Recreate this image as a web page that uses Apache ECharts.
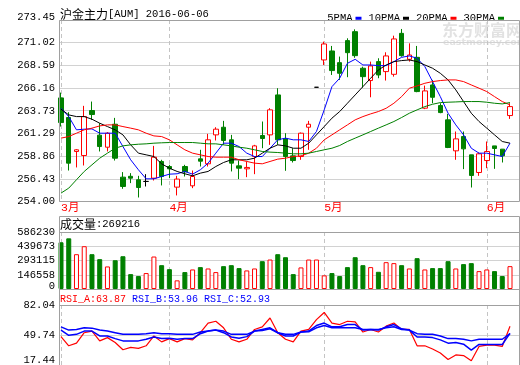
<!DOCTYPE html>
<html><head><meta charset="utf-8">
<script src="https://cdn.jsdelivr.net/npm/echarts@6/dist/echarts.min.js"></script>
<style>html,body{margin:0;padding:0;background:#fff}#c{width:520px;height:365px}</style>
</head><body><div id="c"></div>
<script>
const dates = ['2016-03-14','2016-03-15','2016-03-16','2016-03-17','2016-03-18','2016-03-21','2016-03-22','2016-03-23','2016-03-24','2016-03-25','2016-03-28','2016-03-29','2016-03-30','2016-03-31',
'2016-04-01','2016-04-05','2016-04-06','2016-04-07','2016-04-08','2016-04-11','2016-04-12','2016-04-13','2016-04-14','2016-04-15','2016-04-18','2016-04-19','2016-04-20','2016-04-21','2016-04-22','2016-04-25','2016-04-26','2016-04-27','2016-04-28','2016-04-29',
'2016-05-03','2016-05-04','2016-05-05','2016-05-06','2016-05-09','2016-05-10','2016-05-11','2016-05-12','2016-05-13','2016-05-16','2016-05-17','2016-05-18','2016-05-19','2016-05-20','2016-05-23','2016-05-24','2016-05-25','2016-05-26','2016-05-27','2016-05-30','2016-05-31',
'2016-06-01','2016-06-02','2016-06-03','2016-06-06'];
const opens = [265.10,263.00,259.36,258.93,263.75,261.11,259.82,262.28,256.61,256.70,256.33,256.15,256.50,258.29,257.75,255.54,257.75,255.68,258.57,258.04,261.14,261.96,260.61,257.82,257.50,258.82,261.07,261.14,265.42,260.71,258.89,258.82,261.96,266.24,269.17,270.13,268.88,271.24,272.20,268.28,266.96,268.99,267.92,267.63,272.02,269.24,269.45,264.00,266.49,264.28,262.75,259.43,260.96,259.00,257.11,258.39,259.96,259.61,263.21];
const closes = [262.46,258.11,259.54,263.10,263.32,259.89,261.32,258.64,255.61,256.50,255.50,256.15,258.75,256.68,257.50,256.40,257.18,256.68,258.32,260.61,261.75,260.54,258.11,257.57,257.65,259.96,260.75,263.82,260.61,258.82,258.39,261.32,262.28,266.24,270.88,268.03,267.74,269.95,269.63,267.38,268.53,267.56,269.60,271.42,269.63,269.70,265.78,265.85,265.17,263.53,259.79,260.71,259.64,256.79,259.11,259.36,259.68,258.89,264.17];
const lows = [262.03,257.32,257.65,257.86,262.75,259.36,259.36,258.39,255.36,255.97,254.43,255.61,256.25,255.72,256.50,254.65,256.68,255.43,257.75,257.75,260.54,260.07,257.22,256.40,256.61,256.93,259.71,260.07,260.07,257.29,258.18,258.47,259.54,266.24,268.63,267.56,267.03,267.32,269.40,266.21,265.17,267.21,266.96,267.38,269.52,268.99,265.71,263.90,264.53,263.46,259.72,258.47,257.47,255.50,256.75,257.57,257.50,258.18,262.85];
const highs = [265.67,263.57,259.61,264.25,264.71,262.39,261.43,262.96,257.15,257.04,256.75,256.93,259.96,258.47,257.93,256.75,257.93,257.32,259.54,261.25,261.96,262.64,261.14,258.39,258.29,260.07,262.57,264.00,266.14,261.32,259.71,261.39,262.64,266.24,271.13,270.67,269.53,271.49,272.45,268.45,268.99,269.35,269.99,271.77,272.49,270.95,270.67,266.42,267.03,264.53,263.39,261.50,261.50,259.00,259.25,260.43,259.96,259.61,264.53];
const ma5 = [263.99,263.10,261.68,261.75,261.78,261.32,261.32,261.32,259.89,258.47,257.40,256.43,256.43,256.68,256.93,256.97,257.22,256.93,257.40,258.11,259.18,260.25,260.25,259.89,259.18,258.82,258.82,259.71,260.61,260.79,260.61,260.61,260.43,261.50,263.82,266.31,267.21,268.81,269.24,268.63,268.63,268.56,268.56,268.99,269.45,269.60,269.35,268.46,266.85,265.24,263.46,262.21,261.14,259.71,259.18,259.18,259.00,258.82,260.25];
const ma10 = [263.89,263.28,263.10,263.10,262.82,262.39,262.03,261.68,261.14,260.07,259.18,259.00,258.82,258.04,257.57,257.22,256.97,256.75,257.04,257.22,257.75,258.18,258.47,258.47,258.47,258.64,259.18,259.71,260.07,259.96,259.71,259.71,260.25,261.14,262.03,262.93,263.64,264.53,265.42,266.31,267.21,268.10,268.63,268.99,269.10,269.17,268.99,268.63,268.28,267.74,267.03,265.96,264.71,263.46,262.57,261.86,261.14,260.43,260.25];
const ma20 = [260.79,260.96,261.32,261.68,261.86,262.10,262.21,262.21,262.03,261.86,261.68,261.32,261.03,260.96,260.61,260.07,259.54,259.18,259.00,258.82,258.75,258.75,258.75,258.47,258.29,258.11,258.04,258.29,258.54,258.64,258.82,258.89,259.18,259.71,260.61,261.14,261.68,262.21,262.75,263.10,263.39,263.64,263.99,264.53,265.24,266.14,266.39,266.67,266.85,266.96,267.03,267.03,266.85,266.49,266.14,265.78,265.24,264.71,264.35];
const ma30 = [254.90,255.43,256.33,257.22,257.93,258.64,259.18,259.71,259.96,260.07,260.14,260.18,260.25,260.29,260.32,260.32,260.32,260.32,260.25,260.18,260.18,260.07,259.96,259.82,259.71,259.54,259.36,259.29,259.25,259.18,259.11,259.11,259.18,259.36,259.54,259.71,260.00,260.43,260.79,261.14,261.50,261.86,262.21,262.57,263.00,263.46,263.82,264.17,264.42,264.60,264.64,264.67,264.71,264.71,264.71,264.64,264.53,264.46,264.60];
const volumes = [480500,521000,358000,440000,358000,307000,232000,296000,337000,153000,133000,164000,334000,245000,204000,89000,174000,201000,225000,211000,174000,235000,245000,215000,191000,211000,286000,303000,358000,327000,153000,222000,303000,303000,140000,164000,133000,225000,327000,245000,225000,177000,276000,266000,245000,211000,317000,201000,215000,215000,286000,211000,256000,266000,184000,201000,184000,133000,235000];
const rsiA = [47.98,38.12,40.94,52.20,53.96,43.40,46.92,41.64,33.90,36.36,35.31,38.12,48.68,42.35,45.87,42.35,45.87,44.46,52.20,62.59,64.52,57.48,45.16,42.35,45.16,55.72,58.54,68.04,52.20,45.16,42.35,53.96,55.72,66.28,74.03,62.59,61.00,64.52,63.82,52.91,55.72,52.91,59.24,62.59,55.72,55.72,38.12,38.12,34.60,30.38,23.34,28.27,27.56,21.93,37.42,38.83,38.83,37.42,59.24];
const rsiB = [55.02,49.39,50.44,53.96,53.96,48.68,48.68,45.87,43.40,43.40,43.40,45.16,47.63,45.87,46.22,45.16,45.87,45.87,51.15,53.96,55.02,52.20,47.63,46.22,47.98,53.96,55.72,57.48,52.20,48.68,48.68,52.91,53.96,59.95,62.59,58.54,58.54,61.00,61.00,55.02,55.72,55.02,58.54,61.00,56.43,55.02,47.63,47.63,46.92,44.46,40.94,41.64,39.88,33.55,39.53,39.53,39.53,39.53,51.50];
const rsiC = [58.54,55.02,55.72,57.48,57.13,55.02,53.96,52.20,50.44,50.44,50.44,51.15,52.20,51.15,51.15,50.44,50.44,50.44,52.91,53.96,55.02,53.96,50.44,50.44,50.44,53.96,54.67,56.43,52.20,50.44,50.44,52.91,53.26,57.48,59.95,57.48,57.48,57.48,57.48,55.72,55.72,55.72,57.48,58.54,55.72,55.02,51.15,50.44,50.44,48.68,45.87,45.87,45.16,43.40,45.16,45.16,45.16,45.16,51.15];
const priceAxis = [254.00, 273.45, 2.43125];
const volAxis = [0, 586230, 146557.5];
const rsiAxis = [17.44, 82.04, 32.3];
const maNames = ['5PMA','10PMA','20PMA','30PMA'];
const titleText = ['沪金主力', '[AUM] 2016-06-06'];
const volText = ['成交量', ':269216'];
const rsiTexts = ['RSI_A:63.87','RSI_B:53.96','RSI_C:52.93'];

const MONO = "'Liberation Mono','Noto Sans CJK SC',monospace";
const RED = '#ff0000', GREEN = '#008000', BLUE = '#0000ff';
const GRIDC = '#d2d2d2', FRAMEC = '#a0a0a0', DASHC = '#c4c4c4';

const monthStart = dates.map((d, i) => i === 0 || d.slice(5, 7) !== dates[i - 1].slice(5, 7));
const isMonth = (idx) => monthStart[idx];
const monthIdx = dates.map((d, i) => i).filter(i => monthStart[i]);

const chart = echarts.init(document.getElementById('c'), null, {renderer: 'canvas'});

const L = 61, W = 449, FL = 59, FW = 460;
const panels = [
  {top: 20, height: 181.5},
  {top: 232, height: 57},
  {top: 305, height: 61.4}
];
const grids = [];
panels.forEach(p => {
  grids.push({left: FL, width: FW, top: p.top, height: p.height, show: false});
  grids.push({left: L, width: W, top: p.top, height: p.height, show: false});
});

function labelStyle() {
  return {color: '#000', fontFamily: MONO, fontSize: 10.5};
}
const axes = [priceAxis, volAxis, rsiAxis];
const fmts = [
  v => (Math.round(v * 100 + 1e-6) / 100).toFixed(2),
  v => String(Math.round(v)),
  v => (Math.round(v * 100 + 1e-6) / 100).toFixed(2)
];
const xAxes = [], yAxes = [];
axes.forEach((a, k) => {
  xAxes.push({gridIndex: 2 * k, type: 'value', show: false, min: 0, max: 1});
  xAxes.push({
    gridIndex: 2 * k + 1, type: 'category', data: dates, boundaryGap: false,
    axisLine: {show: false}, axisTick: {show: false},
    axisLabel: k === 0 ? {
      show: true, interval: isMonth, align: 'left', margin: 1,
      color: RED, fontFamily: MONO, fontSize: 11.5,
      formatter: v => parseInt(v.slice(5, 7), 10) + '月'
    } : {show: false},
    splitLine: {show: false}
  });
  yAxes.push({
    gridIndex: 2 * k, type: 'value', min: a[0], max: a[1], interval: a[2],
    axisLine: {show: false}, axisTick: {show: false},
    splitLine: {show: true, lineStyle: {color: GRIDC, width: 1}},
    axisLabel: Object.assign(labelStyle(), {
      margin: 4, showMinLabel: true, showMaxLabel: true,
      formatter: v => {
        const s = fmts[k](v);
        if (k === 0 && Math.abs(v - a[1]) < 1e-6) return '{up|' + s + '}';
        if (k > 0 && Math.abs(v - a[0]) < 1e-6) return '{dn' + k + '|' + s + '}';
        return s;
      },
      rich: {
        up: Object.assign(labelStyle(), {padding: [0, 0, 5, 0]}),
        dn1: Object.assign(labelStyle(), {padding: [0, 0, 6, 0]}),
        dn2: Object.assign(labelStyle(), {padding: [0, 0, 10, 0]})
      }
    })
  });
  yAxes.push({gridIndex: 2 * k + 1, type: 'value', min: a[0], max: a[1], interval: a[2], show: false});
});

// vertical dashed month separators, one custom series per panel, positioned through the category axis
function monthSeries(k) {
  return {
    type: 'custom', xAxisIndex: 2 * k + 1, yAxisIndex: 2 * k + 1, silent: true, z: 1, clip: false,
    data: monthIdx.map(i => [i]),
    renderItem: (params, api) => {
      const x = Math.round(api.coord([api.value(0), axes[k][0]])[0]) + 0.5;
      const cs = params.coordSys;
      return {
        type: 'line',
        shape: {x1: x, y1: cs.y, x2: x, y2: cs.y + cs.height},
        style: {stroke: DASHC, lineWidth: 1, lineDash: [4, 3]}
      };
    }
  };
}

const candleData = dates.map((d, i) => [opens[i], closes[i], lows[i], highs[i]]);
const volData = volumes.map((v, i) => {
  const up = closes[i] >= opens[i];
  return {value: v, itemStyle: up ? {color: '#ffffff', borderColor: RED, borderWidth: 1} : {color: GREEN, borderColor: GREEN, borderWidth: 1}};
});

function line(name, data, color, xi, width) {
  return {
    name, type: 'line', data, xAxisIndex: xi, yAxisIndex: xi, symbol: 'none', smooth: false,
    lineStyle: {color, width: width || 1}, itemStyle: {color}, clip: false,
    emphasis: {disabled: true}, silent: true, z: 3
  };
}

const frameStyle = {stroke: FRAMEC, lineWidth: 1, fill: 'none'};
function hline(y) {
  return {type: 'line', z: 100, silent: true, shape: {x1: 59.5, y1: y, x2: 519.5, y2: y}, style: {stroke: FRAMEC, lineWidth: 1}};
}

const option = {
  animation: false,
  backgroundColor: '#ffffff',
  grid: grids,
  xAxis: xAxes,
  yAxis: yAxes,
  legend: {
    data: maNames, right: 11, top: 8, align: 'right', icon: 'rect',
    itemWidth: 6, itemHeight: 3, itemGap: 7, selectedMode: false,
    textStyle: {color: '#000', fontFamily: MONO, fontSize: 10.5, padding: [0, -2, 0, 0]}
  },
  graphic: [
    {type: 'text', z: 0, silent: true, style: {text: '东方财富网', x: 442, y: 30, verticalAlign: 'middle', fill: '#e2e2e2', font: "bold 16px 'Noto Sans CJK SC'"}},
    {type: 'text', z: 0, silent: true, style: {text: 'eastmoney.com', x: 443, y: 43, verticalAlign: 'middle', fill: '#e2e2e2', font: "bold 9.5px 'DejaVu Sans'"}},
    {type: 'text', z: 50, silent: true, style: {
      text: '{c|' + titleText[0] + '}{a|' + titleText[1] + '}', x: 60, y: 14, verticalAlign: 'middle',
      rich: {c: {fontFamily: "'Noto Sans CJK SC'", fontSize: 12, fill: '#000'}, a: {fontFamily: MONO, fontSize: 10.5, fill: '#000'}}
    }},
    {type: 'text', z: 50, silent: true, style: {
      text: '{c|' + volText[0] + '}{a|' + volText[1] + '}', x: 60, y: 224.5, verticalAlign: 'middle',
      rich: {c: {fontFamily: "'Noto Sans CJK SC'", fontSize: 12, fill: '#000'}, a: {fontFamily: MONO, fontSize: 10.5, fill: '#000'}}
    }},
    {type: 'text', z: 50, silent: true, style: {text: rsiTexts[0], x: 60, y: 299, verticalAlign: 'middle', fill: RED, font: "10px 'Liberation Mono'"}},
    {type: 'text', z: 50, silent: true, style: {text: rsiTexts[1], x: 132, y: 299, verticalAlign: 'middle', fill: BLUE, font: "10px 'Liberation Mono'"}},
    {type: 'text', z: 50, silent: true, style: {text: rsiTexts[2], x: 204, y: 299, verticalAlign: 'middle', fill: BLUE, font: "10px 'Liberation Mono'"}},
    {type: 'rect', z: 100, silent: true, shape: {x: 59.5, y: 20.5, width: 460, height: 181}, style: frameStyle},
    {type: 'rect', z: 100, silent: true, shape: {x: 59.5, y: 216.5, width: 460, height: 160}, style: frameStyle},
    hline(232.5), hline(289.5), hline(305.5)
  ],
  series: [
    monthSeries(0), monthSeries(1), monthSeries(2),
    {
      type: 'candlestick', data: candleData, xAxisIndex: 1, yAxisIndex: 1, barWidth: 5, clip: false,
      itemStyle: {color: '#ffffff', color0: GREEN, borderColor: RED, borderColor0: GREEN, borderColorDoji: '#000000', borderWidth: 1},
      emphasis: {disabled: true}, silent: true, z: 2
    },
    line(maNames[0], ma5, BLUE, 1),
    line(maNames[1], ma10, '#000000', 1),
    line(maNames[2], ma20, RED, 1),
    line(maNames[3], ma30, GREEN, 1),
    {type: 'bar', data: volData, xAxisIndex: 3, yAxisIndex: 3, barWidth: 5, clip: false, silent: true, emphasis: {disabled: true}},
    line('RSI_A', rsiA, RED, 5, 1.2),
    line('RSI_B', rsiB, BLUE, 5, 1.5),
    line('RSI_C', rsiC, BLUE, 5, 1.5)
  ]
};
chart.setOption(option);
</script></body></html>
